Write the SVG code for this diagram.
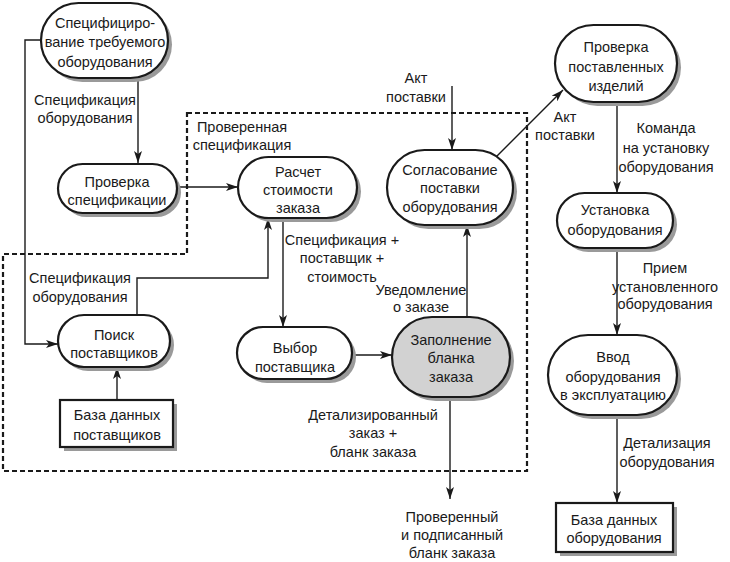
<svg xmlns="http://www.w3.org/2000/svg" width="730" height="562" viewBox="0 0 730 562">
<defs>
<marker id="ar" viewBox="0 0 12 8" refX="12" refY="4" markerWidth="12" markerHeight="8" markerUnits="userSpaceOnUse" orient="auto">
<path d="M0,0 L12,4 L0,8 L3,4 Z" fill="#1a1a1a"/>
</marker>
<style>
text{font-family:"Liberation Sans",Arial,sans-serif;font-size:14.5px;fill:#1a1a1a;text-anchor:middle}
.sh{fill:#9a9a9a;stroke:none}
.nd{fill:#fff;stroke:#1a1a1a;stroke-width:2.2}
.gr{fill:#d2d2d2;stroke:#1a1a1a;stroke-width:2.2}
.cn{fill:none;stroke:#1a1a1a;stroke-width:1.4}
.ca{fill:none;stroke:#1a1a1a;stroke-width:1.4;marker-end:url(#ar)}
.bx{fill:none;stroke:#1a1a1a;stroke-width:2.2;stroke-dasharray:5 3}
</style>
</defs>
<rect width="730" height="562" fill="#fff"/>
<path class="bx" d="M187,113 H527 V471 H3 V254 H187 Z"/>
<g id="connectors">
<path class="ca" d="M138,78 V163"/>
<path class="ca" d="M41,40 H25 V344 H58"/>
<path class="ca" d="M177,187 H238"/>
<path class="ca" d="M137,315 V278 H268 V218"/>
<path class="ca" d="M283,218 V327"/>
<path class="ca" d="M352,355 H392"/>
<path class="ca" d="M467,317 V225"/>
<path class="ca" d="M452,86 V150"/>
<path class="ca" d="M495,158 L563,90"/>
<path class="ca" d="M617,102 V193"/>
<path class="ca" d="M617,248 V335"/>
<path class="ca" d="M617,415 V503"/>
<path class="ca" d="M117,400 V367"/>
<path class="ca" d="M450,397 V499"/>
</g>
<g id="labels">
<text x="85" y="105">Спецификация</text>
<text x="85" y="123">оборудования</text>
<text x="242" y="132">Проверенная</text>
<text x="242" y="150">спецификация</text>
<text x="416" y="83">Акт</text>
<text x="416" y="102">поставки</text>
<text x="565" y="122">Акт</text>
<text x="565" y="140">поставки</text>
<text x="666" y="133">Команда</text>
<text x="666" y="153">на установку</text>
<text x="666" y="172">оборудования</text>
<text x="665" y="273">Прием</text>
<text x="665" y="292">установленного</text>
<text x="665" y="309">оборудования</text>
<text x="667" y="448">Детализация</text>
<text x="667" y="467">оборудования</text>
<text x="80" y="283">Спецификация</text>
<text x="80" y="302">оборудования</text>
<text x="342" y="245">Спецификация +</text>
<text x="342" y="263">поставщик +</text>
<text x="342" y="282">стоимость</text>
<text x="421" y="295">Уведомление</text>
<text x="421" y="312">о заказе</text>
<text x="373" y="420">Детализированный</text>
<text x="373" y="438">заказ +</text>
<text x="373" y="457">бланк заказа</text>
<text x="452" y="522">Проверенный</text>
<text x="452" y="540">и подписанный</text>
<text x="452" y="558">бланк заказа</text>
</g>
<g id="n1">
<rect class="sh" x="45" y="7" width="127" height="75" rx="37.5"/>
<rect class="nd" x="41" y="3" width="127" height="75" rx="37.5"/>
<text x="105" y="28">Специфициро-</text>
<text x="105" y="47">вание требуемого</text>
<text x="105" y="67">оборудования</text>
</g>
<g id="n2">
<rect class="sh" x="62" y="168" width="119" height="49" rx="24.5"/>
<rect class="nd" x="58" y="164" width="119" height="49" rx="24.5"/>
<text x="117" y="187">Проверка</text>
<text x="117" y="205">спецификации</text>
</g>
<g id="n3">
<rect class="sh" x="242" y="161" width="119" height="61" rx="30.5"/>
<rect class="nd" x="238" y="157" width="119" height="61" rx="30.5"/>
<text x="298" y="177">Расчет</text>
<text x="298" y="195">стоимости</text>
<text x="298" y="213">заказа</text>
</g>
<g id="n4">
<rect class="sh" x="391" y="154" width="126" height="75" rx="37.5"/>
<rect class="nd" x="387" y="150" width="126" height="75" rx="37.5"/>
<text x="450" y="175">Согласование</text>
<text x="450" y="193">поставки</text>
<text x="450" y="212">оборудования</text>
</g>
<g id="n5">
<rect class="sh" x="559" y="29" width="122" height="77" rx="38.5"/>
<rect class="nd" x="555" y="25" width="122" height="77" rx="38.5"/>
<text x="616" y="52">Проверка</text>
<text x="616" y="72">поставленных</text>
<text x="616" y="91">изделий</text>
</g>
<g id="n6">
<rect class="sh" x="561" y="197" width="116" height="55" rx="27.5"/>
<rect class="nd" x="557" y="193" width="116" height="55" rx="27.5"/>
<text x="615" y="215">Установка</text>
<text x="615" y="235">оборудования</text>
</g>
<g id="n7">
<rect class="sh" x="552" y="339" width="129" height="80" rx="40"/>
<rect class="nd" x="548" y="335" width="129" height="80" rx="40"/>
<text x="613" y="362">Ввод</text>
<text x="613" y="382">оборудования</text>
<text x="613" y="400">в эксплуатацию</text>
</g>
<g id="n8">
<rect class="sh" x="560" y="507" width="117" height="49"/>
<rect class="nd" x="556" y="503" width="117" height="49"/>
<text x="614" y="525">База данных</text>
<text x="614" y="543">оборудования</text>
</g>
<g id="n9">
<rect class="sh" x="62" y="319" width="112" height="52" rx="26"/>
<rect class="nd" x="58" y="315" width="112" height="52" rx="26"/>
<text x="114" y="340">Поиск</text>
<text x="114" y="358">поставщиков</text>
</g>
<g id="n10">
<rect class="sh" x="64" y="404" width="113" height="47"/>
<rect class="nd" x="60" y="400" width="113" height="47"/>
<text x="117" y="420">База данных</text>
<text x="117" y="440">поставщиков</text>
</g>
<g id="n11">
<rect class="sh" x="241" y="331" width="115" height="52" rx="26"/>
<rect class="nd" x="237" y="327" width="115" height="52" rx="26"/>
<text x="295" y="353">Выбор</text>
<text x="295" y="372">поставщика</text>
</g>
<g id="n12">
<rect class="sh" x="396" y="321" width="118" height="80" rx="40"/>
<rect class="gr" x="392" y="317" width="118" height="80" rx="40"/>
<text x="451" y="345">Заполнение</text>
<text x="451" y="363">бланка</text>
<text x="451" y="382">заказа</text>
</g>
</svg>
